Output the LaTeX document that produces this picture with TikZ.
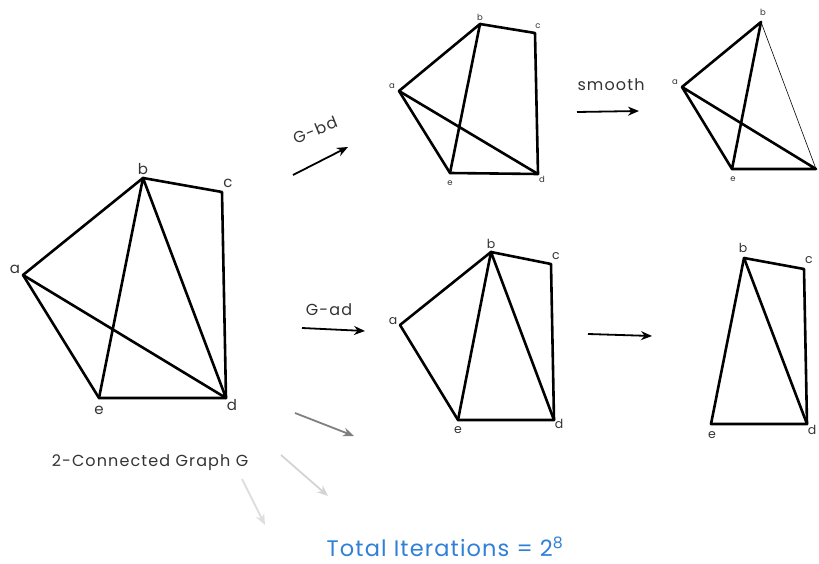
\documentclass[tikz,border=0pt]{standalone}
\usepackage{fontspec}
\setmainfont{Poppins}
\usetikzlibrary{arrows.meta}
\definecolor{tblue}{HTML}{2F80D6}
\begin{document}
\begin{tikzpicture}[x=1pt,y=-1pt,
  edge/.style={line width=2.6pt,line cap=round,line join=round},
  thinedge/.style={line width=0.6pt},
  lbl/.style={font=\fontsize{15}{15}\selectfont,text=black!80,inner sep=0pt},
  slbl/.style={font=\fontsize{8.5}{9}\selectfont,text=black!80,inner sep=0pt},
  mlbl/.style={font=\fontsize{12.5}{13}\selectfont,text=black!80,inner sep=0pt},
  arr/.style={line width=1.8pt,-{Stealth[length=11pt,width=9pt]}},
  captext/.style={font=\fontsize{16}{16}\selectfont\addfontfeatures{LetterSpace=7},text=black!80,inner sep=0pt}]
\useasboundingbox (0,0) rectangle (819,564);
% main graph G
\coordinate (a) at (23,275); \coordinate (b) at (143,178); \coordinate (c) at (222,192);
\coordinate (d) at (226,398); \coordinate (e) at (99,398);
\draw[edge] (a)--(b)--(c)--(d)--(e)--cycle;
\draw[edge] (a)--(d) (b)--(e) (b)--(d);
\node[lbl] (la) at (15,269) {a};
\node[lbl] (lb) at (143,169) {b};
\node[lbl] (lc) at (228,183) {c};
\node[lbl] (ld) at (232,405) {d};
\node[lbl] (le) at (99,410) {e};
\node[captext] (capG) at (150,463) {2-Connected Graph G};
% top middle (G-bd)
\coordinate (a1) at (399,91); \coordinate (b1) at (480,24); \coordinate (c1) at (535,33);
\coordinate (d1) at (538,174); \coordinate (e1) at (450,173);
\draw[edge] (a1)--(b1)--(c1)--(d1)--(e1)--cycle;
\draw[edge] (a1)--(d1) (b1)--(e1);
\node[slbl] (la1) at (392,86) {a};
\node[slbl] (lb1) at (480,17) {b};
\node[slbl] (lc1) at (538,26) {c};
\node[slbl] (ld1) at (542,179) {d};
\node[slbl] (le1) at (450,183) {e};
% top right (smooth)
\coordinate (a2) at (682,87); \coordinate (b2) at (761,22);
\coordinate (d2) at (816,169); \coordinate (e2) at (732,169);
\draw[edge] (b2)--(a2)--(e2)--(d2)--(a2) (b2)--(e2);
\draw[thinedge] (b2)--(d2);
\node[slbl] (la2) at (675,82) {a};
\node[slbl] (lb2) at (763,12) {b};
\node[slbl] (le2) at (733,179) {e};
% middle (G-ad)
\coordinate (a3) at (400,325); \coordinate (b3) at (491,252); \coordinate (c3) at (551,264);
\coordinate (d3) at (554,420); \coordinate (e3) at (458,420);
\draw[edge] (a3)--(b3)--(c3)--(d3)--(e3)--cycle;
\draw[edge] (b3)--(e3) (b3)--(d3);
\node[mlbl] (la3) at (393,321) {a};
\node[mlbl] (lb3) at (491,244) {b};
\node[mlbl] (lc3) at (556,256) {c};
\node[mlbl] (ld3) at (559,424) {d};
\node[mlbl] (le3) at (458,430) {e};
% right middle
\coordinate (b4) at (744,258); \coordinate (c4) at (804,269);
\coordinate (d4) at (807,424); \coordinate (e4) at (711,424);
\draw[edge] (b4)--(c4)--(d4)--(e4)--cycle;
\draw[edge] (b4)--(d4);
\node[mlbl] (lb4) at (743,248) {b};
\node[mlbl] (lc4) at (809,260) {c};
\node[mlbl] (ld4) at (812,430) {d};
\node[mlbl] (le4) at (712,435) {e};
% arrows
\coordinate (s1) at (293,175); \coordinate (t1) at (348,147);
\draw[arr] (s1)--(t1);
\node[captext,rotate=22] (gbd) at (315,130) {G-bd};
\coordinate (s2) at (577,112); \coordinate (t2) at (639,111);
\draw[arr] (s2)--(t2);
\node[captext] (smooth) at (611,85) {smooth};
\coordinate (s3) at (302,328); \coordinate (t3) at (365,331);
\draw[arr] (s3)--(t3);
\node[captext] (gad) at (329,310) {G-ad};
\coordinate (s4) at (588,334); \coordinate (t4) at (652,336);
\draw[arr] (s4)--(t4);
\coordinate (s5) at (295,413); \coordinate (t5) at (354,436);
\draw[arr,color=black!50] (s5)--(t5);
\coordinate (s6) at (281,455); \coordinate (t6) at (328,496);
\draw[arr,color=black!17] (s6)--(t6);
\coordinate (s7) at (242,479); \coordinate (t7) at (265,525);
\draw[arr,color=black!13] (s7)--(t7);
\node[font=\fontsize{22.5}{23}\selectfont\addfontfeatures{LetterSpace=5},text=tblue,inner sep=0pt] (tot) at (445,547) {Total Iterations = 2\textsuperscript{8}};
\end{tikzpicture}
\end{document}
